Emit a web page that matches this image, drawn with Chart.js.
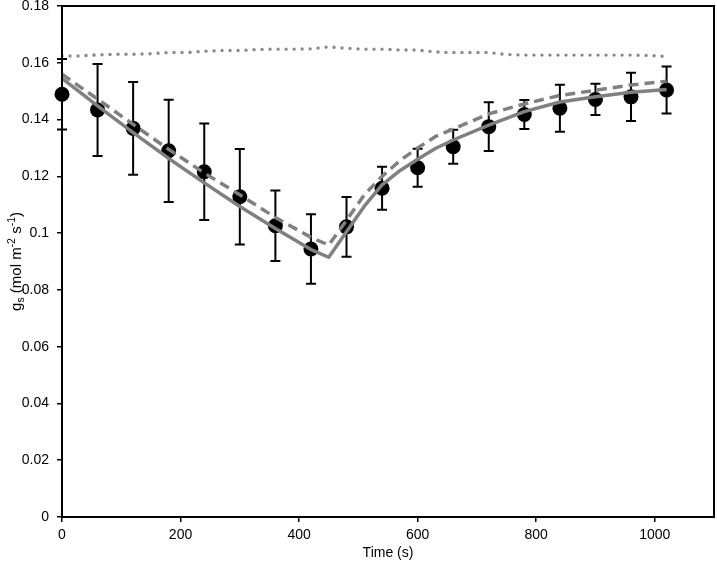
<!DOCTYPE html>
<html lang="en">
<head>
<meta charset="UTF-8">
<title>gs time course</title>
<script src="https://cdn.jsdelivr.net/npm/chart.js"></script>
<style>
  html, body { margin: 0; padding: 0; background: #fff; }
  #wrap { width: 717px; height: 568px; position: relative; }
</style>
</head>
<body>
<div id="wrap"><canvas id="gsChart"></canvas></div>
<script>
// measured points (mean +/- error)
const obsTime = [0, 60, 120, 180, 240, 300, 360, 420, 480, 540, 600, 660, 720, 780, 840, 900, 960, 1020];
const obsGs   = [0.1489, 0.1434, 0.1369, 0.1290, 0.1216, 0.1128, 0.1026, 0.0944, 0.1022, 0.1158,
                 0.1230, 0.1304, 0.1375, 0.1418, 0.1440, 0.1471, 0.1480, 0.1504];
const obsErr  = [0.0124, 0.0162, 0.0163, 0.0180, 0.0170, 0.0168, 0.0124, 0.0122, 0.0105, 0.0076,
                 0.0067, 0.0060, 0.0086, 0.0051, 0.0083, 0.0055, 0.0085, 0.0083];

// model curves
const modelTime = [0, 60, 120, 180, 240, 300, 360, 420, 450, 480, 510, 540, 570, 600, 630, 660, 720, 780, 840, 900, 960, 1020];
const solidGs   = [0.1545, 0.1448, 0.1354, 0.1263, 0.1177, 0.1094, 0.1016, 0.0942, 0.0915, 0.1005, 0.1095,
                   0.1170, 0.1220, 0.1260, 0.1298, 0.1328, 0.1380, 0.1428, 0.1462, 0.1480, 0.1496, 0.1506];
const dashedGs  = [0.1560, 0.1472, 0.1383, 0.1295, 0.1212, 0.1135, 0.1055, 0.0985, 0.0958, 0.1045, 0.1135,
                   0.1200, 0.1255, 0.1300, 0.1340, 0.1367, 0.1420, 0.1455, 0.1485, 0.1503, 0.1522, 0.1535];

const dotTime = [0, 30, 60, 90, 120, 150, 180, 210, 240, 270, 300, 330, 360, 390, 420, 450, 480, 510,
                 540, 570, 600, 630, 660, 690, 720, 750, 780, 810, 840, 870, 900, 930, 960, 990, 1020];
const dotGs   = [0.1624, 0.1624, 0.1628, 0.1630, 0.1630, 0.1632, 0.1636, 0.1636, 0.1641, 0.1643, 0.1643,
                 0.1647, 0.1648, 0.1648, 0.1649, 0.1656, 0.1651, 0.1648, 0.1648, 0.1645, 0.1645, 0.1638,
                 0.1636, 0.1636, 0.1636, 0.1629, 0.1627, 0.1627, 0.1627, 0.1627, 0.1627, 0.1627, 0.1627,
                 0.1626, 0.1622];

const xTicks = [0, 200, 400, 600, 800, 1000];
const yTicks = [0, 0.02, 0.04, 0.06, 0.08, 0.1, 0.12, 0.14, 0.16, 0.18];

const FONT = '"Liberation Sans", Arial, sans-serif';
const GREY = '#808080';

function pts(xs, ys) {
    return xs.map((x, i) => ({ x: x, y: ys[i] }));
}

// error bars drawn through the chart scales
const errorBars = {
    id: 'errorBars',
    beforeDatasetsDraw(chart) {
        const ctx = chart.ctx;
        const xs = chart.scales.x, ys = chart.scales.y;
        ctx.save();
        ctx.strokeStyle = '#000';
        ctx.lineWidth = 2;
        obsTime.forEach((t, i) => {
            const px = xs.getPixelForValue(t);
            const top = ys.getPixelForValue(obsGs[i] + obsErr[i]);
            const bot = ys.getPixelForValue(obsGs[i] - obsErr[i]);
            ctx.beginPath();
            ctx.moveTo(px, top); ctx.lineTo(px, bot);
            ctx.moveTo(px - 5, top); ctx.lineTo(px + 5, top);
            ctx.moveTo(px - 5, bot); ctx.lineTo(px + 5, bot);
            ctx.stroke();
        });
        ctx.restore();
    }
};

// frame + axis titles
const frame = {
    id: 'frame',
    afterDraw(chart) {
        const ctx = chart.ctx;
        const a = chart.chartArea;
        ctx.save();
        ctx.strokeStyle = '#000';
        ctx.lineWidth = 2;
        ctx.strokeRect(a.left, a.top, a.right - a.left, a.bottom - a.top);

        ctx.fillStyle = '#000';
        ctx.textBaseline = 'middle';
        ctx.textAlign = 'center';
        ctx.font = '14px ' + FONT;
        ctx.fillText('Time (s)', (a.left + a.right) / 2, 553);

        // y title with sub/superscripts
        const base = '15px ' + FONT, small = '10.5px ' + FONT;
        const parts = [
            { t: 'g', f: base, dy: 0 },
            { t: 's', f: small, dy: 4 },
            { t: ' (mol m', f: base, dy: 0 },
            { t: '-2', f: small, dy: -5 },
            { t: ' s', f: base, dy: 0 },
            { t: '-1', f: small, dy: -5 },
            { t: ')', f: base, dy: 0 }
        ];
        let total = 0;
        parts.forEach(p => { ctx.font = p.f; p.w = ctx.measureText(p.t).width; total += p.w; });
        ctx.translate(17, (a.top + a.bottom) / 2);
        ctx.rotate(-Math.PI / 2);
        ctx.textAlign = 'left';
        let x = -total / 2;
        parts.forEach(p => { ctx.font = p.f; ctx.fillText(p.t, x, p.dy); x += p.w; });
        ctx.restore();
    }
};

new Chart(document.getElementById('gsChart'), {
    type: 'scatter',
    data: {
        datasets: [
            { label: 'dotted', data: pts(dotTime, dotGs), showLine: true, borderColor: '#8a8a8a',
              borderWidth: 3.4, borderDash: [0.01, 8], borderCapStyle: 'round', pointRadius: 0, tension: 0 },
            { label: 'solid', data: pts(modelTime, solidGs), showLine: true, borderColor: GREY,
              borderWidth: 3.5, pointRadius: 0, tension: 0, borderJoinStyle: 'round' },
            { label: 'dashed', data: pts(modelTime, dashedGs), showLine: true, borderColor: GREY,
              borderWidth: 3.5, borderDash: [10, 6], pointRadius: 0, tension: 0 },
            { label: 'measured', data: pts(obsTime, obsGs), showLine: false, backgroundColor: '#000',
              borderColor: '#000', borderWidth: 0, pointRadius: 7.5, clip: false }
        ]
    },
    options: {
        responsive: true,
        maintainAspectRatio: false,
        animation: false,
        layout: { autoPadding: false, padding: { left: 0, right: 3, top: 6, bottom: 0 } },
        plugins: { legend: { display: false }, tooltip: { enabled: false } },
        scales: {
            x: {
                type: 'linear', min: 0, max: 1100,
                afterBuildTicks(s) { s.ticks = xTicks.map(v => ({ value: v })); },
                ticks: { color: '#000', font: { family: FONT, size: 14 }, padding: 5, maxRotation: 0,
                         callback: v => String(v) },
                grid: { drawOnChartArea: false, tickLength: 5, color: '#000', lineWidth: 1.5 },
                border: { color: '#000', width: 2 },
                afterFit(s) { s.height = 51; s.paddingLeft = 0; s.paddingRight = 0; }
            },
            y: {
                min: 0, max: 0.18,
                afterBuildTicks(s) { s.ticks = yTicks.map(v => ({ value: v })); },
                ticks: { color: '#000', font: { family: FONT, size: 14, lineHeight: 1 }, padding: 8,
                         callback: v => String(Number(v.toFixed(2))) },
                grid: { drawOnChartArea: false, tickLength: 5, color: '#000', lineWidth: 1.5 },
                border: { color: '#000', width: 2 },
                afterFit(s) { s.width = 62; s.paddingTop = 0; s.paddingBottom = 0; }
            }
        }
    },
    plugins: [errorBars, frame]
});
</script>
</body>
</html>
